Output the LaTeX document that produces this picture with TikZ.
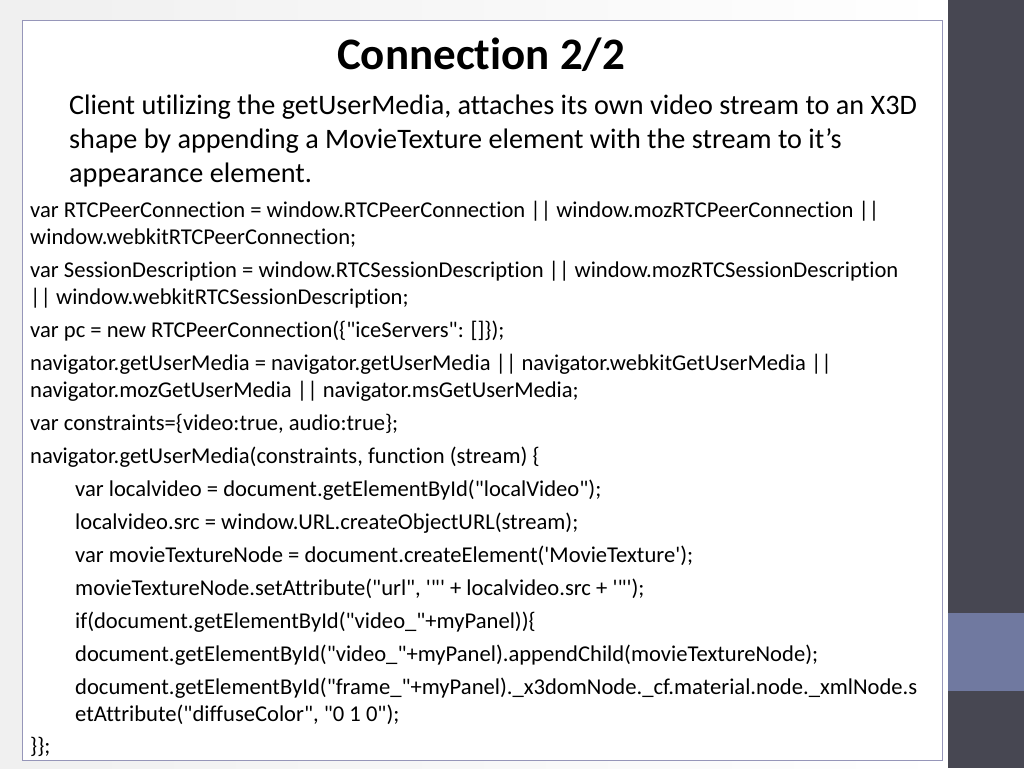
\documentclass[tikz,border=0pt]{standalone}
\usepackage{fontspec}
\setmainfont{Carlito}[Ligatures={NoCommon}]
\newcommand{\dq}{\textquotedbl}
\newcommand{\sq}{\textquotesingle}
\begin{document}
\begin{tikzpicture}[x=1pt,y=-1pt,
 code/.style={anchor=base west,inner sep=0pt,font=\fontsize{22.6}{26}\selectfont},
 intro/.style={anchor=base west,inner sep=0pt,font=\fontsize{28.2}{32}\selectfont}]
\useasboundingbox (0,0) rectangle (1024,768);
\shade[left color=gray!12,right color=white] (0,0) rectangle (948,768);
\fill[white] (22,20) rectangle (942,760);
\draw[color={rgb,255:red,150;green,150;blue,185}] (22,20) rectangle (942,760);
\fill[color={rgb,255:red,71;green,71;blue,82}] (948,0) rectangle (1024,768);
\fill[color={rgb,255:red,112;green,121;blue,160}] (948,613) rectangle (1024,691);
\node[anchor=base,inner sep=0pt,font=\fontsize{45}{50}\selectfont\bfseries] (t) at (481,70) {Connection 2/2};
\node[intro] (i1) at (69,114) {Client utilizing the getUserMedia, attaches its own video stream to an X3D};
\node[intro] (i2) at (69,148) {shape by appending a MovieTexture element with the stream to it’s};
\node[intro] (i3) at (69,182) {appearance element.};
\node[code] (c1) at (30,217) {var RTCPeerConnection = window.RTCPeerConnection || window.mozRTCPeerConnection ||};
\node[code] (c2) at (30,244) {window.webkitRTCPeerConnection;};
\node[code] (c3) at (30,277) {var SessionDescription = window.RTCSessionDescription || window.mozRTCSessionDescription};
\node[code] (c4) at (30,304) {|| window.webkitRTCSessionDescription;};
\node[code] (c5) at (30,337) {var pc = new RTCPeerConnection(\{\dq iceServers\dq: []\});};
\node[code] (c6) at (30,370) {navigator.getUserMedia = navigator.getUserMedia || navigator.webkitGetUserMedia ||};
\node[code] (c7) at (30,397) {navigator.mozGetUserMedia || navigator.msGetUserMedia;};
\node[code] (c8) at (30,430) {var constraints=\{video:true, audio:true\};};
\node[code] (c9) at (30,463) {navigator.getUserMedia(constraints, function (stream) \{};
\node[code] (d1) at (75,496) {var localvideo = document.getElementById(\dq localVideo\dq);};
\node[code] (d2) at (75,529) {localvideo.src = window.URL.createObjectURL(stream);};
\node[code] (d3) at (75,562) {var movieTextureNode = document.createElement(\sq MovieTexture\sq);};
\node[code] (d4) at (75,595) {movieTextureNode.setAttribute(\dq url\dq, \sq\dq\sq\ + localvideo.src + \sq\dq\sq);};
\node[code] (d5) at (75,628) {if(document.getElementById(\dq video\_\dq+myPanel))\{};
\node[code] (d6) at (75,661) {document.getElementById(\dq video\_\dq+myPanel).appendChild(movieTextureNode);};
\node[code] (d7) at (75,694) {document.getElementById(\dq frame\_\dq+myPanel).\_x3domNode.\_cf.material.node.\_xmlNode.s};
\node[code] (d8) at (75,721) {etAttribute(\dq diffuseColor\dq, \dq 0 1 0\dq);};
\node[code] (e1) at (30,753) {\}\};};
\end{tikzpicture}
\end{document}
